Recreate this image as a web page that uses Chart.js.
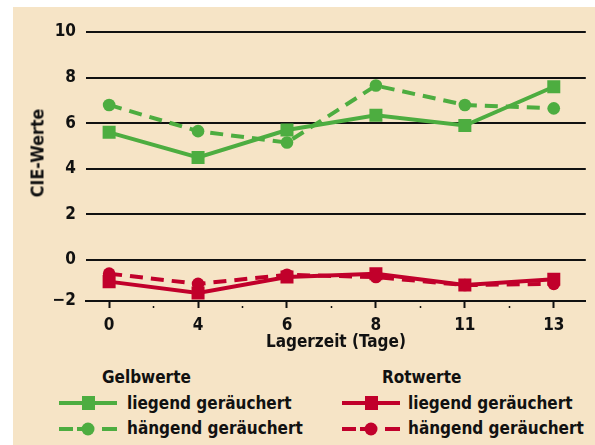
<!DOCTYPE html>
<html>
<head>
<meta charset="utf-8">
<script src="https://cdn.jsdelivr.net/npm/chart.js@4/dist/chart.umd.min.js"></script>
<style>
  html, body { margin:0; padding:0; background:#fff; }
  #wrap { position:relative; width:595px; height:445px; overflow:hidden; font-family:'DejaVu Sans Condensed','DejaVu Sans',sans-serif; font-stretch:condensed; font-weight:bold; color:#111; }
  #bg { position:absolute; left:13px; top:7px; width:582px; height:438px; background:#F6E4C6; }
  #c { position:absolute; left:0; top:0; }
  #ytitle { position:absolute; left:37px; top:153px; transform:translate(-50%,-50%) rotate(-90deg); font-size:17.8px; white-space:nowrap; }
  .lg { position:absolute; font-size:17px; white-space:nowrap; line-height:20px; }
  .hd { position:absolute; font-size:17px; white-space:nowrap; }
  svg { position:absolute; }
</style>
</head>
<body>
<div id="wrap">
  <div id="bg"></div>
  <canvas id="c" width="595" height="360"></canvas>
  <div id="ytitle">CIE-Werte</div>
  <div class="hd" style="left:102px; top:367px;">Gelbwerte</div>
  <div class="hd" style="left:382px; top:367px;">Rotwerte</div>
  <svg style="left:59px; top:393px;" width="60" height="46" id="lgG"></svg>
  <svg style="left:342px; top:393px;" width="60" height="46" id="lgR"></svg>
  <div class="lg" style="left:127px; top:393px;">liegend geräuchert</div>
  <div class="lg" style="left:127px; top:418px;">hängend geräuchert</div>
  <div class="lg" style="left:408px; top:393px;">liegend geräuchert</div>
  <div class="lg" style="left:408px; top:418px;">hängend geräuchert</div>
</div>
<script>
// ---- data ----
const days = ['0', '4', '6', '8', '11', '13'];
const gelbLiegend  = [5.6, 4.5, 5.7, 6.35, 5.9, 7.6];
const gelbHaengend = [6.8, 5.65, 5.15, 7.65, 6.8, 6.65];
const rotLiegend   = [-0.95, -1.45, -0.75, -0.6, -1.1, -0.85];
const rotHaengend  = [-0.6, -1.05, -0.65, -0.75, -1.1, -1.05];
const yTickValues = [-1.8, 0, 2, 4, 6, 8, 10];
const yTickLabels = ['\u22122', '0', '2', '4', '6', '8', '10'];

const GREEN = '#4DAD40';
const RED = '#C1002B';
const FONT = "'DejaVu Sans Condensed','DejaVu Sans',sans-serif";

// legend symbols
function legendSvg(id, color) {
  const s = document.getElementById(id);
  s.innerHTML =
    `<line x1="0" y1="10" x2="58" y2="10" stroke="${color}" stroke-width="4"/>` +
    `<rect x="23" y="3" width="13" height="14" fill="${color}"/>` +
    `<line x1="0" y1="36" x2="14" y2="36" stroke="${color}" stroke-width="4"/>` +
    `<line x1="18" y1="36" x2="24" y2="36" stroke="${color}" stroke-width="4"/>` +
    `<circle cx="29" cy="36" r="6.5" fill="${color}"/>` +
    `<line x1="43" y1="36" x2="58" y2="36" stroke="${color}" stroke-width="4"/>`;
}
legendSvg('lgG', GREEN);
legendSvg('lgR', RED);

const toXY = arr => arr.map((v, i) => ({x: i, y: v}));

function ds(label, data, color, dashed, style) {
  return {
    label, data: toXY(data),
    borderColor: color, backgroundColor: color,
    borderWidth: 4, borderDash: dashed ? [13, 8] : [],
    pointStyle: style, pointRadius: style === 'rect' ? 9.2 : 6.3,
    pointBorderWidth: 0, pointHoverRadius: style === 'rect' ? 9.2 : 6.3,
    tension: 0, fill: false
  };
}

new Chart(document.getElementById('c'), {
  type: 'line',
  data: {
    datasets: [
      ds('Gelb liegend', gelbLiegend, GREEN, false, 'rect'),
      ds('Gelb hängend', gelbHaengend, GREEN, true, 'circle'),
      ds('Rot hängend', rotHaengend, RED, true, 'circle'),
      ds('Rot liegend', rotLiegend, RED, false, 'rect')
    ]
  },
  options: {
    responsive: false,
    devicePixelRatio: 1,
    animation: false,
    events: [],
    layout: { padding: { left: 0, top: 32, right: 8, bottom: 0 } },
    plugins: { legend: { display: false }, tooltip: { enabled: false } },
    scales: {
      x: {
        type: 'linear', min: -0.26, max: 5.36,
        afterBuildTicks: s => { const t = []; for (let v = 0; v <= 5; v += 0.5) t.push({value: v}); s.ticks = t; },
        afterFit: s => { s.height = 59; },
        border: { display: true, color: '#111', width: 2 },
        grid: {
          drawOnChartArea: false, drawTicks: true, tickLength: 7,
          tickColor: '#111',
          tickWidth: c => (c.tick && c.tick.value % 1 !== 0) ? 1.5 : 2,
          tickBorderDash: c => (c.tick && c.tick.value % 1 !== 0) ? [0, 4, 2, 20] : []
        },
        ticks: {
          autoSkip: false, maxRotation: 0, padding: 7,
          color: '#111', font: { family: FONT, size: 17, weight: 'bold' },
          callback: v => (Number.isInteger(v) ? days[v] : '')
        },
        title: { display: true, text: 'Lagerzeit (Tage)', color: '#111', font: { family: FONT, size: 17, weight: 'bold' }, padding: { top: 0, bottom: 7 } }
      },
      y: {
        min: -1.8, max: 10,
        afterBuildTicks: s => { s.ticks = yTickValues.map(v => ({value: v})); },
        afterFit: s => { s.width = 86; },
        border: { display: false },
        grid: { color: '#111', lineWidth: 2, drawTicks: false },
        ticks: {
          padding: 10, color: '#111', font: { family: FONT, size: 17, weight: 'bold' },
          callback: v => { const i = yTickValues.indexOf(v); return i >= 0 ? yTickLabels[i] : ''; }
        }
      }
    }
  }
});
</script>
</body>
</html>
